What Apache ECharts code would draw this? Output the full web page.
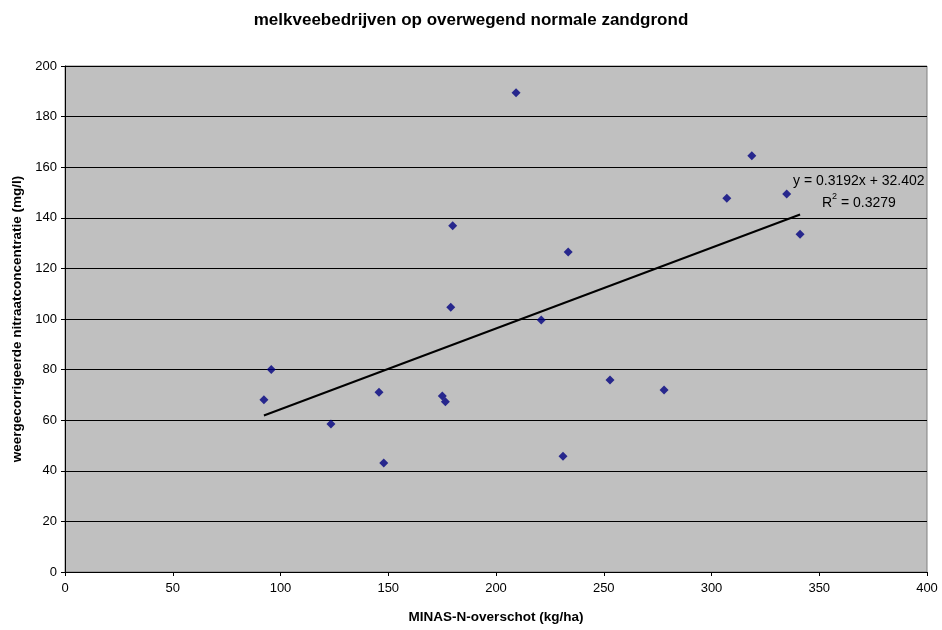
<!DOCTYPE html>
<html>
<head>
<meta charset="utf-8">
<script src="https://cdn.jsdelivr.net/npm/echarts@6/dist/echarts.min.js"></script>
<style>
  html, body { margin: 0; padding: 0; background: #fff; }
  #chart { width: 942px; height: 630px; }
</style>
</head>
<body>
<div id="chart"></div>
<script>
// surplus (kg/ha) and nitrate (mg/l) per farm
var surplus = [92.3, 95.7, 123.4, 145.7, 147.9, 175.1, 176.5, 179.0, 179.9, 209.3,
  221.0, 231.1, 233.5, 252.9, 278.0, 307.1, 318.7, 334.9, 341.1];
var nitrate = [68.1, 80.0, 58.5, 71.0, 43.1, 69.6, 67.3, 104.6, 136.9, 189.4,
  99.6, 45.8, 126.5, 75.9, 71.9, 147.7, 164.5, 149.4, 133.5];

// trendline as printed on the chart
var slope = 0.3192;
var intercept = 32.402;
var rSquared = 0.3279;

var points = [];
for (var i = 0; i < surplus.length; i++) {
  points.push([surplus[i], nitrate[i]]);
}
var xMin = Math.min.apply(null, surplus);
var xMax = Math.max.apply(null, surplus);
var trend = [
  [xMin, slope * xMin + intercept],
  [xMax, slope * xMax + intercept]
];

var chartDom = document.getElementById("chart");
var myChart = echarts.init(chartDom, null, { renderer: "canvas" });
var font = "Liberation Sans, Arial, sans-serif";

var option = {
  animation: false,
  title: {
    text: "melkveebedrijven op overwegend normale zandgrond",
    left: "center",
    top: 7,
    textStyle: { fontFamily: font, fontSize: 17, fontWeight: "bold", color: "#000" }
  },
  grid: {
    left: 65,
    right: 15,
    top: 66,
    bottom: 58,
    show: true,
    backgroundColor: "#C0C0C0",
    borderColor: "#808080",
    borderWidth: 1
  },
  xAxis: {
    type: "value",
    min: 0,
    max: 400,
    interval: 50,
    name: "MINAS-N-overschot (kg/ha)",
    nameLocation: "middle",
    nameGap: 38,
    nameTextStyle: { fontFamily: font, fontSize: 13.5, fontWeight: "bold", color: "#000" },
    axisLine: { show: true, onZero: false, lineStyle: { color: "#000", width: 1 } },
    axisTick: { show: true, length: 4, lineStyle: { color: "#000" } },
    axisLabel: { fontFamily: font, fontSize: 13, color: "#000", margin: 10 },
    splitLine: { show: false }
  },
  yAxis: {
    type: "value",
    min: 0,
    max: 200,
    interval: 20,
    name: "weergecorrigeerde nitraatconcentratie (mg/l)",
    nameLocation: "middle",
    nameGap: 38,
    nameTextStyle: { fontFamily: font, fontSize: 13.5, fontWeight: "bold", color: "#000" },
    axisLine: { show: true, lineStyle: { color: "#000", width: 1 } },
    axisTick: { show: true, length: 4, lineStyle: { color: "#000" } },
    axisLabel: { fontFamily: font, fontSize: 13, color: "#000", margin: 8 },
    splitLine: { show: true, lineStyle: { color: "#000", width: 1 } }
  },
  series: [
    {
      type: "scatter",
      data: points,
      symbol: "diamond",
      symbolSize: 9,
      itemStyle: { color: "#000080" },
      z: 3
    },
    {
      type: "line",
      data: trend,
      symbol: "none",
      lineStyle: { color: "#000", width: 2 },
      z: 2
    }
  ],
  graphic: [
    {
      type: "text",
      left: 793,
      top: 174,
      style: {
        text: "y = " + slope + "x + " + intercept,
        font: "14px " + font,
        fill: "#000"
      }
    },
    {
      type: "text",
      left: 822,
      top: 192,
      style: {
        text: "{b|R}{s|2}{b| = " + rSquared + "}",
        rich: {
          b: { fontFamily: font, fontSize: 14, color: "#000", verticalAlign: "bottom", lineHeight: 18 },
          s: { fontFamily: font, fontSize: 9, color: "#000", verticalAlign: "top", lineHeight: 18 }
        }
      }
    }
  ]
};
option && myChart.setOption(option);
window.addEventListener("resize", function () {
  myChart.resize();
});
</script>
</body>
</html>
